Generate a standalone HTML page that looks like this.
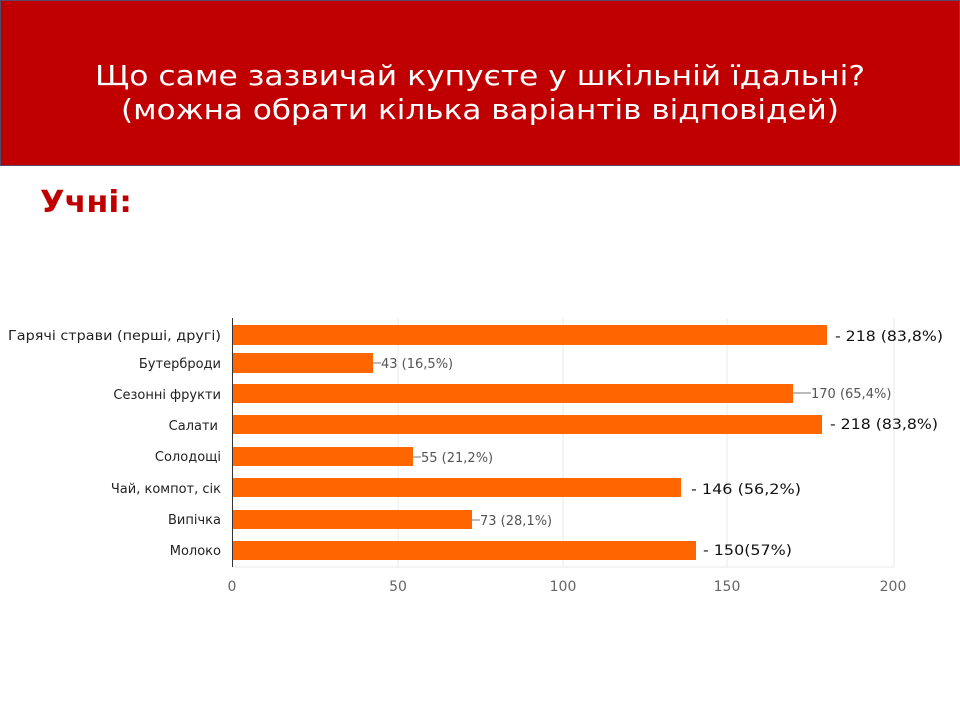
<!DOCTYPE html>
<html><head><meta charset="utf-8"><style>
html,body{margin:0;padding:0;background:#fff;}
svg{display:block;}
</style></head><body>
<svg width="960" height="720" xmlns="http://www.w3.org/2000/svg" font-family="'DejaVu Sans','Liberation Sans',sans-serif">
<rect x="0.5" y="0.5" width="959" height="165" fill="#c00000" stroke="#5a4a6a" stroke-width="1"/>
<text x="480" y="85" fill="#fff" font-size="28" text-anchor="middle" textLength="770" lengthAdjust="spacingAndGlyphs">Що саме зазвичай купуєте у шкільній їдальні?</text>
<text x="480" y="119" fill="#fff" font-size="28" text-anchor="middle" textLength="718" lengthAdjust="spacingAndGlyphs">(можна обрати кілька варіантів відповідей)</text>
<text x="40" y="212" fill="#c00000" font-size="30" font-weight="bold" textLength="92" lengthAdjust="spacingAndGlyphs">Учні:</text>
<g stroke="#e8e8e8" stroke-width="1">
<line x1="398" y1="318" x2="398" y2="567"/>
<line x1="563" y1="318" x2="563" y2="567"/>
<line x1="727" y1="318" x2="727" y2="567"/>
<line x1="894" y1="318" x2="894" y2="567"/>
<line x1="232" y1="567" x2="894" y2="567"/>
</g>
<line x1="232.5" y1="318" x2="232.5" y2="567" stroke="#333" stroke-width="1"/>
<g fill="#ff6600">
<rect x="233" y="325" width="594" height="20"/>
<rect x="233" y="353" width="140" height="20"/>
<rect x="233" y="384" width="560" height="19"/>
<rect x="233" y="415" width="589" height="19"/>
<rect x="233" y="447" width="180" height="19"/>
<rect x="233" y="478" width="448" height="19"/>
<rect x="233" y="510" width="239" height="19"/>
<rect x="233" y="541" width="463" height="19"/>
</g>
<g stroke="#777" stroke-width="1">
<line x1="373" y1="363" x2="381" y2="363"/>
<line x1="793" y1="393" x2="811" y2="393"/>
<line x1="413" y1="457" x2="421" y2="457"/>
<line x1="472" y1="520" x2="480" y2="520"/>
</g>
<g font-size="13" fill="#222" text-anchor="end">
<text x="221" y="340" textLength="213" lengthAdjust="spacingAndGlyphs">Гарячі страви  (перші, другі)</text>
<text x="221" y="368">Бутерброди</text>
<text x="221" y="399">Сезонні фрукти</text>
<text x="218" y="430">Салати</text>
<text x="221" y="461">Солодощі</text>
<text x="221" y="493">Чай, компот, сік</text>
<text x="221" y="524">Випічка</text>
<text x="221" y="555">Молоко</text>
</g>
<g font-size="13" fill="#555">
<text x="381" y="368">43 (16,5%)</text>
<text x="811" y="398">170 (65,4%)</text>
<text x="421" y="462">55 (21,2%)</text>
<text x="480" y="525">73 (28,1%)</text>
</g>
<g font-size="14" fill="#111">
<text x="835" y="341" textLength="108" lengthAdjust="spacingAndGlyphs">- 218 (83,8%)</text>
<text x="830" y="429" textLength="108" lengthAdjust="spacingAndGlyphs">- 218 (83,8%)</text>
<text x="691" y="494" textLength="110" lengthAdjust="spacingAndGlyphs">- 146 (56,2%)</text>
<text x="703" y="555" textLength="89" lengthAdjust="spacingAndGlyphs">- 150(57%)</text>
</g>
<g font-size="14" fill="#666" text-anchor="middle">
<text x="232" y="591">0</text>
<text x="398" y="591">50</text>
<text x="563" y="591">100</text>
<text x="727" y="591">150</text>
<text x="893" y="591">200</text>
</g>
</svg>
</body></html>
